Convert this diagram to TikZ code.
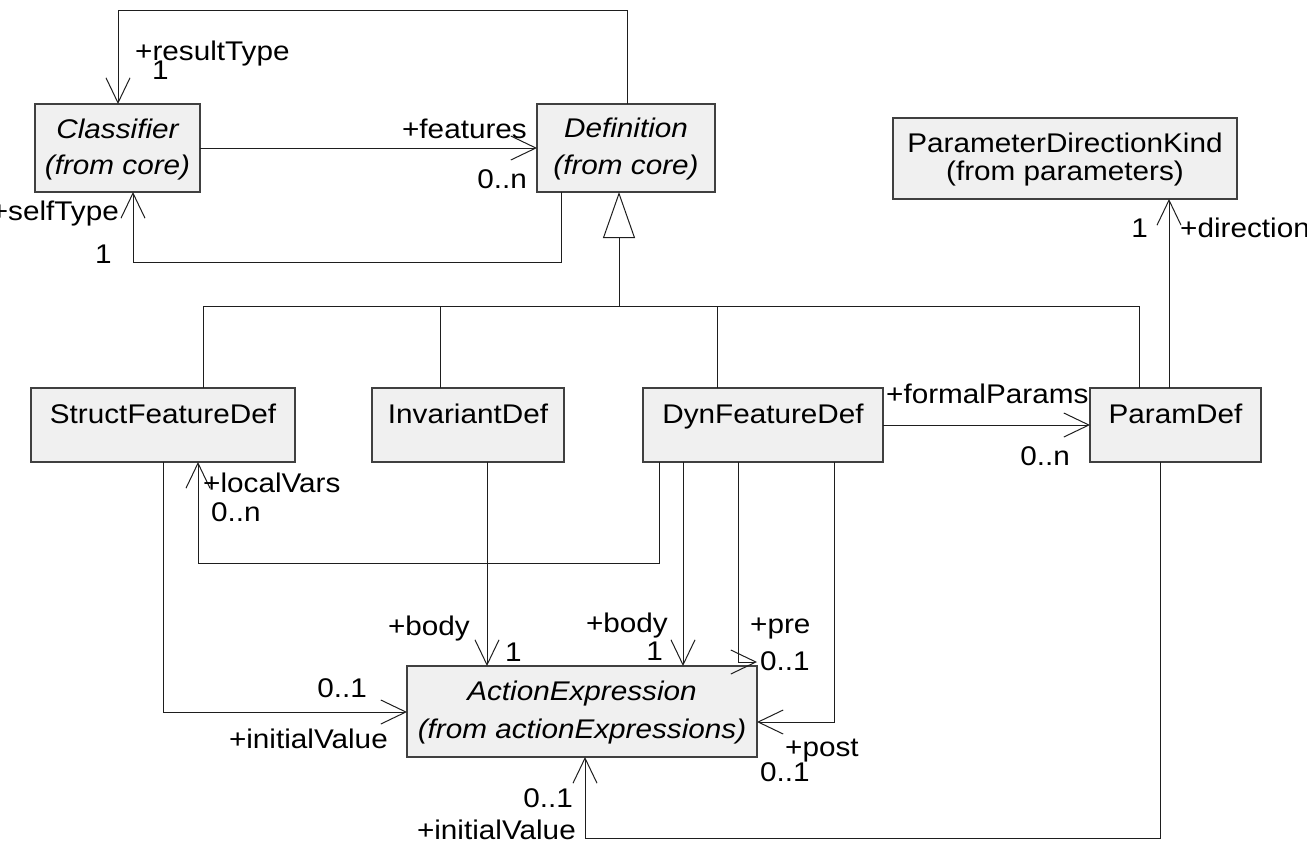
\documentclass[tikz,border=0pt]{standalone}
\usepackage{fontspec}
\setmainfont{Liberation Sans}[FakeStretch=1.1]
\usetikzlibrary{arrows.meta,calc}
\definecolor{boxfill}{RGB}{240,240,240}
\definecolor{boxline}{RGB}{64,64,64}
\definecolor{wirecol}{RGB}{30,30,30}
\begin{document}
\begin{tikzpicture}[x=1pt,y=-1pt,
  every node/.style={font=\fontsize{27}{31}\selectfont},
  cls/.style={draw=boxline, line width=1.3pt, fill=boxfill, rectangle,
              inner sep=0pt, outer sep=0pt, anchor=north west},
  txt/.style={inner sep=0pt, anchor=base},
  lbl/.style={inner sep=0pt},
  wire/.style={draw=wirecol, line width=1pt},
  assoc/.style={wire, -{Straight Barb[length=25pt,width=24pt,line width=1pt]}},
  gen/.style={wire, -{Triangle[length=46pt,width=32pt,fill=white,line width=1pt]}}
]
\useasboundingbox (0,0) rectangle (1307,844);

% ---------- classes ----------
\node[cls, minimum width=165pt, minimum height=88pt] (classifier) at (35,104) {};
\node[txt] (classifierA) at ($(classifier.north)+(0,34)$) {\itshape Classifier};
\node[txt] (classifierB) at ($(classifier.north)+(0,70)$) {\itshape (from core)};

\node[cls, minimum width=178pt, minimum height=88pt] (def) at (537,104) {};
\node[txt] (defA) at ($(def.north)+(0,33)$) {\itshape Definition};
\node[txt] (defB) at ($(def.north)+(0,70)$) {\itshape (from core)};

\node[cls, minimum width=344pt, minimum height=81pt] (pdk) at (893,118) {};
\node[txt] (pdkA) at ($(pdk.north)+(0,34)$) {ParameterDirectionKind};
\node[txt] (pdkB) at ($(pdk.north)+(0,62)$) {(from parameters)};

\node[cls, minimum width=264pt, minimum height=74pt] (sfd) at (31,388) {};
\node[txt] (sfdA) at ($(sfd.north)+(0,35)$) {StructFeatureDef};

\node[cls, minimum width=192pt, minimum height=74pt] (inv) at (372,388) {};
\node[txt] (invA) at ($(inv.north)+(0,35)$) {InvariantDef};

\node[cls, minimum width=240pt, minimum height=74pt] (dyn) at (643,388) {};
\node[txt] (dynA) at ($(dyn.north)+(0,35)$) {DynFeatureDef};

\node[cls, minimum width=171pt, minimum height=74pt] (param) at (1090,388) {};
\node[txt] (paramA) at ($(param.north)+(0,35)$) {ParamDef};

\node[cls, minimum width=350pt, minimum height=91pt] (ae) at (407,666) {};
\node[txt] (aeA) at ($(ae.north)+(0,34)$) {\itshape ActionExpression};
\node[txt] (aeB) at ($(ae.north)+(0,72)$) {\itshape (from actionExpressions)};

% ---------- routing points ----------
\coordinate (rtA) at (627,10);
\coordinate (rtB) at (118,10);
\coordinate (stA) at (561,262);
\coordinate (stB) at (133,262);
\coordinate (genx) at (619,306);
\coordinate (busL) at (203,306);
\coordinate (busR) at (1139,306);
\coordinate (busI) at (440,306);
\coordinate (busD) at (717,306);
\coordinate (dirx) at (1169,300);
\coordinate (lvA) at (659,563);
\coordinate (lvB) at (198,563);
\coordinate (ivA) at (163,712);
\coordinate (ibx) at (487,600);
\coordinate (dbx) at (683,600);
\coordinate (prA) at (738,662);
\coordinate (prB) at (757,662);
\coordinate (poA) at (834,722);
\coordinate (pvA) at (1160,838);
\coordinate (pvB) at (585,838);

% ---------- associations ----------
\draw[assoc] (def.north -| rtA) -- (rtA) -- (rtB) -- (classifier.north -| rtB);
\draw[assoc] (classifier.east) -- (def.west);
\draw[assoc] (def.south -| stA) -- (stA) -- (stB) -- (classifier.south -| stB);
\draw[assoc] (param.north -| dirx) -- (pdk.south -| dirx);
\draw[assoc] (dyn.east) -- (param.west);
\draw[assoc] (dyn.south -| lvA) -- (lvA) -- (lvB) -- (sfd.south -| lvB);
\draw[assoc] (sfd.south -| ivA) -- (ivA) -- (ae.west |- ivA);
\draw[assoc] (inv.south -| ibx) -- (ae.north -| ibx);
\draw[assoc] (dyn.south -| dbx) -- (ae.north -| dbx);
\draw[assoc] (dyn.south -| prA) -- (prA) -- (prB);
\draw[assoc] (dyn.south -| poA) -- (poA) -- (ae.east |- poA);
\draw[assoc] (param.south -| pvA) -- (pvA) -- (pvB) -- (ae.south -| pvB);

% ---------- generalization ----------
\draw[wire] (busL) -- (busR);
\draw[gen] (genx) -- (def.south -| genx);
\draw[wire] (busL) -- (sfd.north -| busL);
\draw[wire] (busI) -- (inv.north -| busI);
\draw[wire] (busD) -- (dyn.north -| busD);
\draw[wire] (busR) -- (param.north -| busR);

% ---------- role names and multiplicities ----------
\node[lbl, anchor=base west] (lrt) at (135,60) {+resultType};
\node[lbl, anchor=base west] (mrt) at (152,79) {1};
\node[lbl, anchor=base east] (lft) at (527,138) {+features};
\node[lbl, anchor=base east] (mft) at (527,188) {0..n};
\node[lbl, anchor=base east] (lst) at (119,220) {+selfType};
\node[lbl, anchor=base west] (mst) at (95,263) {1};
\node[lbl, anchor=base east] (mdr) at (1148,237) {1};
\node[lbl, anchor=base west] (ldr) at (1180,237) {+direction};
\node[lbl, anchor=base west] (lfp) at (886,403) {+formalParams};
\node[lbl, anchor=base east] (mfp) at (1070,465) {0..n};
\node[lbl, anchor=base west] (llv) at (203,492) {+localVars};
\node[lbl, anchor=base west] (mlv) at (211,521) {0..n};
\node[lbl, anchor=base east] (lib) at (470,635) {+body};
\node[lbl, anchor=base west] (mib) at (505,661) {1};
\node[lbl, anchor=base east] (ldb) at (668,632) {+body};
\node[lbl, anchor=base east] (mdb) at (663,660) {1};
\node[lbl, anchor=base west] (lpr) at (750,633) {+pre};
\node[lbl, anchor=base west] (mpr) at (760,670) {0..1};
\node[lbl, anchor=base east] (msv) at (367,697) {0..1};
\node[lbl, anchor=base east] (lsv) at (388,748) {+initialValue};
\node[lbl, anchor=base west] (lpo) at (785,756) {+post};
\node[lbl, anchor=base west] (mpo) at (760,781) {0..1};
\node[lbl, anchor=base east] (mpv) at (573,807) {0..1};
\node[lbl, anchor=base east] (lpv) at (576,839) {+initialValue};
\end{tikzpicture}
\end{document}
